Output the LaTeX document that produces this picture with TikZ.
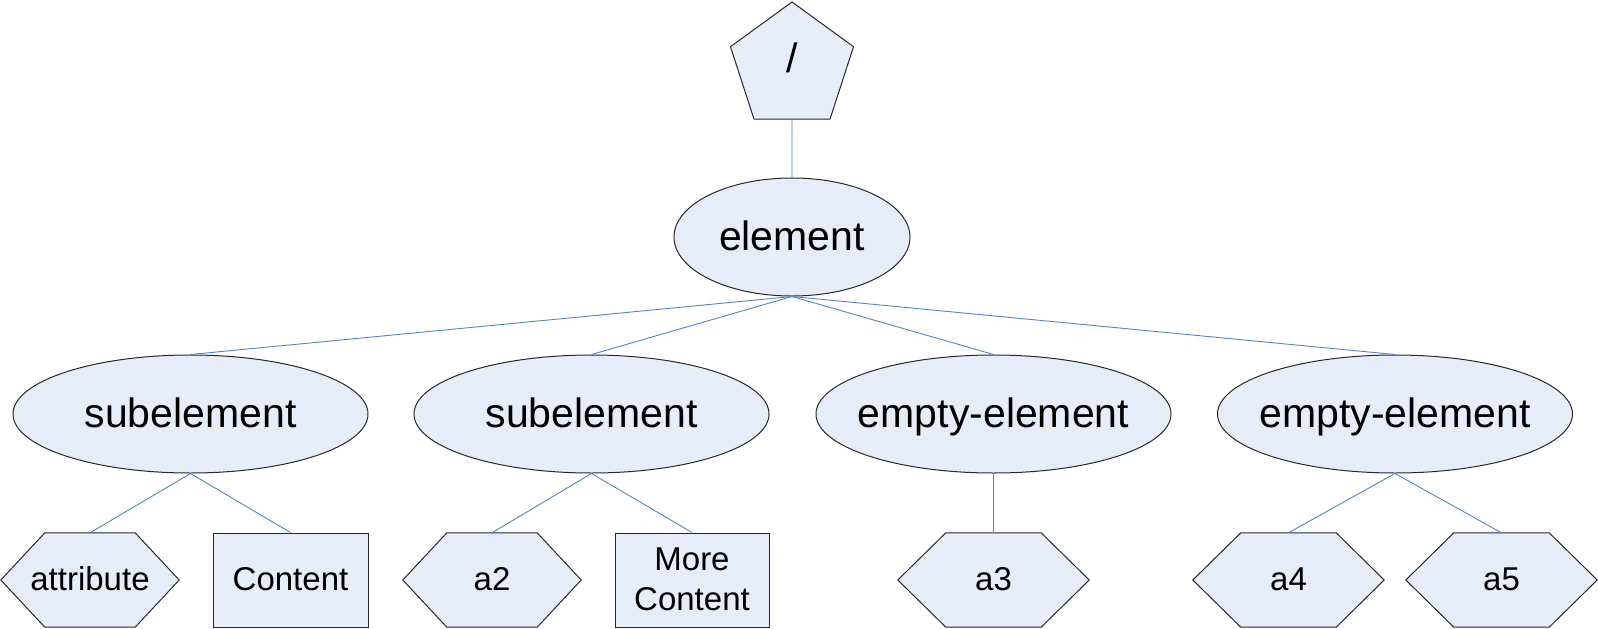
\documentclass[tikz,border=0pt]{standalone}
\usepackage{fontspec}
\setmainfont{Liberation Sans}
\usetikzlibrary{shapes.geometric,backgrounds}
\definecolor{nodefill}{RGB}{231,237,248}
\definecolor{linkblue}{RGB}{84,130,204}
\definecolor{edgegray}{RGB}{40,40,40}
\begin{document}
\begin{tikzpicture}[x=1pt,y=-1pt,
  shapeline/.style={draw=edgegray,fill=nodefill,line width=1pt},
  bigtext/.style={font=\fontsize{41}{49}\selectfont,text height=32pt,text depth=6pt},
  smalltext/.style={font=\fontsize{33}{40}\selectfont,text height=26pt,text depth=6pt},
  elem/.style={ellipse,shapeline,inner ysep=0pt,inner xsep=-40pt,minimum width=355pt,minimum height=118pt,bigtext},
  rootshape/.style={regular polygon,regular polygon sides=5,shapeline,inner sep=0pt,minimum size=129.4pt,
    font=\fontsize{41}{49}\selectfont,text height=22pt,text depth=11pt},
  hexbox/.style={rectangle,inner sep=0pt,minimum height=94pt,smalltext},
  contentbox/.style={rectangle,shapeline,inner sep=0pt,minimum height=94pt,smalltext,align=center},
  link/.style={draw=linkblue,line width=0.9pt}
]
\useasboundingbox (0,0) rectangle (1598,629);

\node[rootshape] (root) at (792,66.7) {/};
\node[elem, minimum width=236pt] (elt) at (792,237) {element};

\node[elem] (s1) at (190.5,414) {subelement};
\node[elem] (s2) at (591.5,414) {subelement};
\node[elem] (e1) at (993.5,414) {empty-element};
\node[elem] (e2) at (1395,414) {empty-element};

\node[hexbox, minimum width=178pt] (attr) at (90,580) {attribute};
\node[contentbox, minimum width=155pt] (cont) at (290.5,580) {Content};
\node[hexbox, minimum width=178pt] (a2) at (492,580) {a2};
\node[contentbox, minimum width=154pt, text height=66pt, text depth=6pt] (more) at (692,580) {More\\Content};
\node[hexbox, minimum width=191pt] (a3) at (993.5,580) {a3};
\node[hexbox, minimum width=191pt] (a4) at (1288.5,580) {a4};
\node[hexbox, minimum width=191pt] (a5) at (1501.5,580) {a5};

\begin{scope}[on background layer]
  \foreach \n/\d in {attr/44pt,a2/44pt,a3/48pt,a4/48pt,a5/48pt}{
    \path[shapeline] ([xshift=\d]\n.north west) -- ([xshift=-\d]\n.north east) -- (\n.east)
      -- ([xshift=-\d]\n.south east) -- ([xshift=\d]\n.south west) -- (\n.west) -- cycle;
  }
\end{scope}

\draw[link] (root.south) -- (elt.north);
\foreach \c in {s1,s2,e1,e2} \draw[link] (elt.south) -- (\c.north);
\draw[link] (s1.south) -- (attr.north);
\draw[link] (s1.south) -- (cont.north);
\draw[link] (s2.south) -- (a2.north);
\draw[link] (s2.south) -- (more.north);
\draw[link] (e1.south) -- (a3.north);
\draw[link] (e2.south) -- (a4.north);
\draw[link] (e2.south) -- (a5.north);
\end{tikzpicture}
\end{document}
